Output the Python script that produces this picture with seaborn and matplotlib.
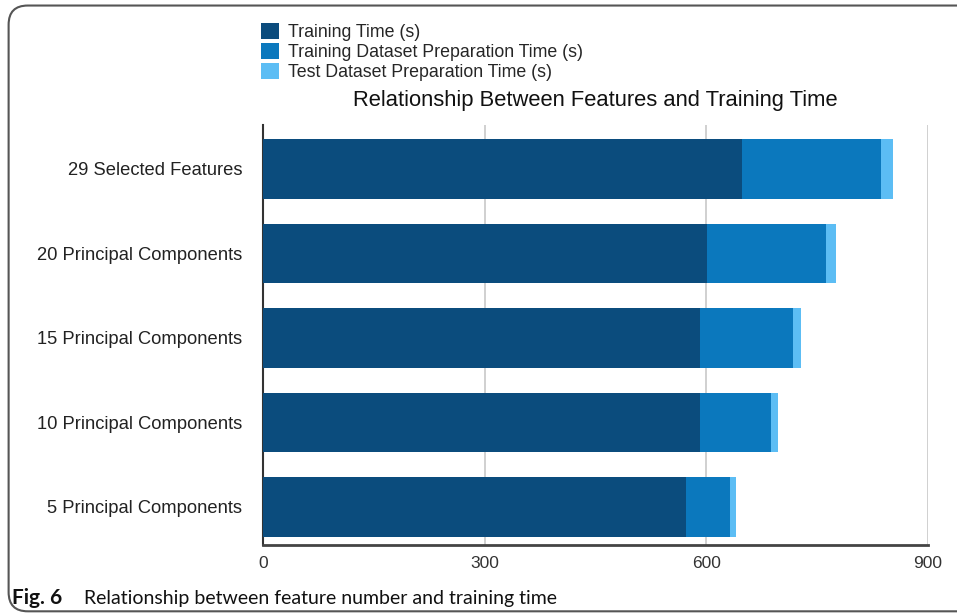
import matplotlib
matplotlib.use("Agg")
import matplotlib.pyplot as plt
import seaborn as sns
import pandas as pd
from matplotlib.patches import FancyBboxPatch, Patch

# values (seconds)
categories = ["29 Selected Features", "20 Principal Components", "15 Principal Components",
              "10 Principal Components", "5 Principal Components"]
training_time = [648, 601, 592, 591, 572]
train_prep_time = [188, 161, 125, 96, 60]
test_prep_time = [16, 14, 11, 10, 8]
x_ticks = [0, 300, 600, 900]

series_names = ["Training Time (s)", "Training Dataset Preparation Time (s)", "Test Dataset Preparation Time (s)"]
colors = ["#0b4c7d", "#0b78bd", "#5cbdf4"]

df = pd.DataFrame({"cat": categories, "train": training_time,
                   "prep": train_prep_time, "test": test_prep_time})
df["c1"] = df["train"]
df["c2"] = df["train"] + df["prep"]
df["c3"] = df["c2"] + df["test"]

sns.set_style("white")
plt.rcParams["font.family"] = ["Liberation Sans", "DejaVu Sans"]

fig = plt.figure(figsize=(9.57, 6.15), dpi=100)
ax = fig.add_axes([0.2748, 0.1138, 0.6949, 0.6829])

# stacked horizontal bars: draw cumulative totals, longest first
for col, c in zip(["c3", "c2", "c1"], colors[::-1]):
    sns.barplot(data=df, x=col, y="cat", orient="h", color=c, width=0.7,
                saturation=1, ax=ax, zorder=3, linewidth=0)

ax.set_xlim(0, 900)
ax.set_ylim(4.45, -0.52)
ax.set_xticks(x_ticks)
ax.set_xticklabels([str(t) for t in x_ticks], fontsize=12.5, color="#333333")
ax.tick_params(axis="y", labelsize=13.2, colors="#222222", length=0, pad=15)
ax.tick_params(axis="x", length=0, pad=8)
ax.set_xlabel("")
ax.set_ylabel("")
ax.grid(axis="x", color="#c8c8c8", linewidth=1.2, zorder=0)
for s in ["top", "right"]:
    ax.spines[s].set_visible(False)
ax.spines["left"].set_color("#333333")
ax.spines["bottom"].set_color("#444444")
ax.spines["left"].set_linewidth(1.5)
ax.spines["bottom"].set_linewidth(2)

ax.set_title("Relationship Between Features and Training Time", fontsize=15.8,
             color="#111111", pad=14, x=0.5)

handles = [Patch(facecolor=c, edgecolor="none") for c in colors]
fig.legend(handles, series_names, loc="upper left", bbox_to_anchor=(0.273, 0.962),
           frameon=False, fontsize=12.8, handlelength=1.0, handleheight=1.0,
           handletextpad=0.5, labelspacing=0.1, borderpad=0, borderaxespad=0)

# outer rounded frame
frame = FancyBboxPatch((0.009, 0.006), 1.2, 0.985, boxstyle="round,pad=0,rounding_size=0.02",
                       transform=fig.transFigure, facecolor="none", edgecolor="#555555",
                       linewidth=1.5, mutation_aspect=957 / 615)
fig.patches.append(frame)

fig.text(0.013, 0.018, "Fig. 6", fontsize=15, fontweight="bold",
         family=["Lato", "DejaVu Sans"], color="#111111")
fig.text(0.0878, 0.018, "Relationship between feature number and training time", fontsize=14,
         family=["Lato", "DejaVu Sans"], color="#111111")

fig.savefig("out.png", dpi=100)
